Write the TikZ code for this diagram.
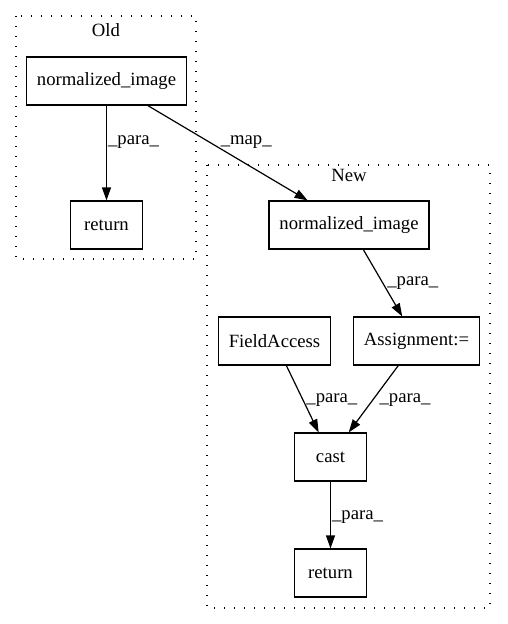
\documentclass[tikz,border=0pt]{standalone}
\usepackage{fontspec}
\setmainfont{Liberation Serif}
\usetikzlibrary{arrows.meta}
\tikzset{
	box/.style={draw, line width=1.2pt, minimum width=72pt, minimum height=48pt, inner xsep=10.5pt, font=\fontsize{18.7}{22}\selectfont},
	lbl/.style={anchor=west, inner sep=0pt, font=\fontsize{18.7}{22}\selectfont},
	cluster/.style={line width=1.3pt, dash pattern=on 1.4pt off 8.6pt},
	edge/.style={line width=1.2pt, -{Triangle[length=13pt,width=9pt]}}
}

\begin{document}
\begin{tikzpicture}[x=1pt, y=-1pt]
				\useasboundingbox (0, 0) rectangle (507, 624);
				
				\draw[cluster] (16, 16) rectangle (196, 259);
				\node[font=\fontsize{18.7}{22}\selectfont] (oldtitle) at (106, 30) {Old};
				
				\draw[cluster] (207, 165) rectangle (490, 608);
				\node[font=\fontsize{18.7}{22}\selectfont] (newtitle) at (349, 175) {New};
				
				\node[box] (oldnorm) at (106.5, 81) {normalized\_image};
				\node[box] (oldret) at (106.5, 225) {return};
				
				\node[box] (newnorm) at (349, 225) {normalized\_image};
				\node[box] (field) at (274.5, 341) {FieldAccess};
				\node[box] (assign) at (416.5, 341) {Assignment:=};
				\node[box] (cast) at (330.5, 457) {cast};
				\node[box] (newret) at (330.5, 573) {return};
				
				\draw[edge] (oldnorm) -- node[lbl, pos=0.39, xshift=1pt] {\_para\_} (oldret);
				\draw[edge] (oldnorm) -- node[lbl, pos=0.39, xshift=10pt] {\_map\_} (newnorm);
				\draw[edge] (newnorm) -- node[lbl, pos=0.5, xshift=4pt] {\_para\_} (assign);
				\draw[edge] (field) -- node[lbl, pos=0.51, xshift=3pt] {\_para\_} (cast);
				\draw[edge] (assign) -- node[lbl, pos=0.51, xshift=6pt] {\_para\_} (cast);
				\draw[edge] (cast) -- node[lbl, pos=0.53, xshift=1pt] {\_para\_} (newret);
			\end{tikzpicture}
\end{document}
